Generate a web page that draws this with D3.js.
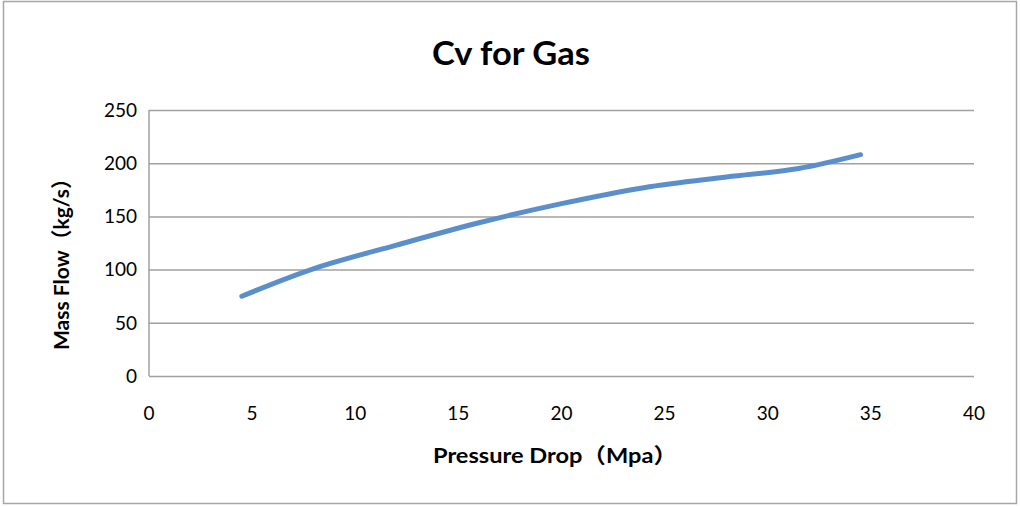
<!DOCTYPE html>
<html>
<head>
<meta charset="utf-8">
<script src="https://cdn.jsdelivr.net/npm/d3@7"></script>
<style>
  body { margin: 0; background: #fff; }
  svg { display: block; }
</style>
</head>
<body>
<svg id="chart" width="1020" height="506"></svg>
<script>
// values
const pressureDrop = [4.5, 8, 12, 16, 20, 24, 28, 31.5, 34.5];
const massFlow = [75, 101, 123, 144, 162, 177, 187, 195, 208];
const xTicks = [0, 5, 10, 15, 20, 25, 30, 35, 40];
const yTicks = [0, 50, 100, 150, 200, 250];

const svg = d3.select('#chart');
const width = +svg.attr('width');
const height = +svg.attr('height');
const font = "Lato, 'Noto Sans CJK SC', sans-serif";

const plot = {left: 149, right: 974, top: 110, bottom: 376};

const x = d3.scaleLinear().domain([0, 40]).range([plot.left, plot.right]);
const y = d3.scaleLinear().domain([0, 250]).range([plot.bottom, plot.top]);

// outer chart border
svg.append('rect')
    .attr('x', 3.5).attr('y', 1.5)
    .attr('width', width - 7).attr('height', height - 4)
    .attr('fill', 'none')
    .attr('stroke', '#a6a6a6')
    .attr('stroke-width', 1.5);

// horizontal gridlines
svg.append('g')
    .attr('transform', `translate(${plot.left},0)`)
    .call(d3.axisLeft(y).tickValues(yTicks).tickSize(-(plot.right - plot.left)).tickFormat(''))
    .call(g => g.select('.domain').remove())
    .call(g => g.selectAll('line').attr('stroke', '#a0a0a0').attr('stroke-width', 1.5));

// y axis line
svg.append('line')
    .attr('x1', plot.left).attr('x2', plot.left)
    .attr('y1', plot.top).attr('y2', plot.bottom)
    .attr('stroke', '#a0a0a0').attr('stroke-width', 1.5);

// y tick labels
svg.append('g')
    .selectAll('text')
    .data(yTicks)
    .enter()
    .append('text')
    .attr('x', plot.left - 12)
    .attr('y', d => y(d))
    .attr('dy', '0.36em')
    .attr('text-anchor', 'end')
    .attr('font-family', font)
    .attr('font-size', 19)
    .attr('fill', '#000')
    .text(d => d);

// x tick labels
svg.append('g')
    .selectAll('text')
    .data(xTicks)
    .enter()
    .append('text')
    .attr('x', d => x(d))
    .attr('y', plot.bottom + 44)
    .attr('text-anchor', 'middle')
    .attr('font-family', font)
    .attr('font-size', 19)
    .attr('fill', '#000')
    .text(d => d);

// the curve
const pts = pressureDrop.map((p, i) => [p, massFlow[i]]);
const line = d3.line()
    .x(d => x(d[0]))
    .y(d => y(d[1]))
    .curve(d3.curveCatmullRom.alpha(0.5));

svg.append('path')
    .datum(pts)
    .attr('d', line)
    .attr('fill', 'none')
    .attr('stroke', '#5b8fcb')
    .attr('stroke-width', 5)
    .attr('stroke-linecap', 'round')
    .attr('stroke-linejoin', 'round');

// title
svg.append('text')
    .attr('x', 511)
    .attr('y', 65)
    .attr('text-anchor', 'middle')
    .attr('font-family', font)
    .attr('font-weight', 'bold')
    .attr('font-size', 32)
    .attr('textLength', 158)
    .attr('lengthAdjust', 'spacingAndGlyphs')
    .text('Cv for Gas');

// x axis title
svg.append('text')
    .attr('x', 555)
    .attr('y', 463)
    .attr('text-anchor', 'middle')
    .attr('font-family', font)
    .attr('font-weight', 'bold')
    .attr('font-size', 21)
    .attr('textLength', 244)
    .attr('lengthAdjust', 'spacingAndGlyphs')
    .text('Pressure Drop（Mpa）');

// y axis title, rotated
svg.append('text')
    .attr('transform', 'translate(69,259) rotate(-90)')
    .attr('text-anchor', 'middle')
    .attr('font-family', font)
    .attr('font-weight', 'bold')
    .attr('font-size', 21)
    .attr('textLength', 182)
    .attr('lengthAdjust', 'spacingAndGlyphs')
    .text('Mass Flow（kg/s）');
</script>
</body>
</html>
